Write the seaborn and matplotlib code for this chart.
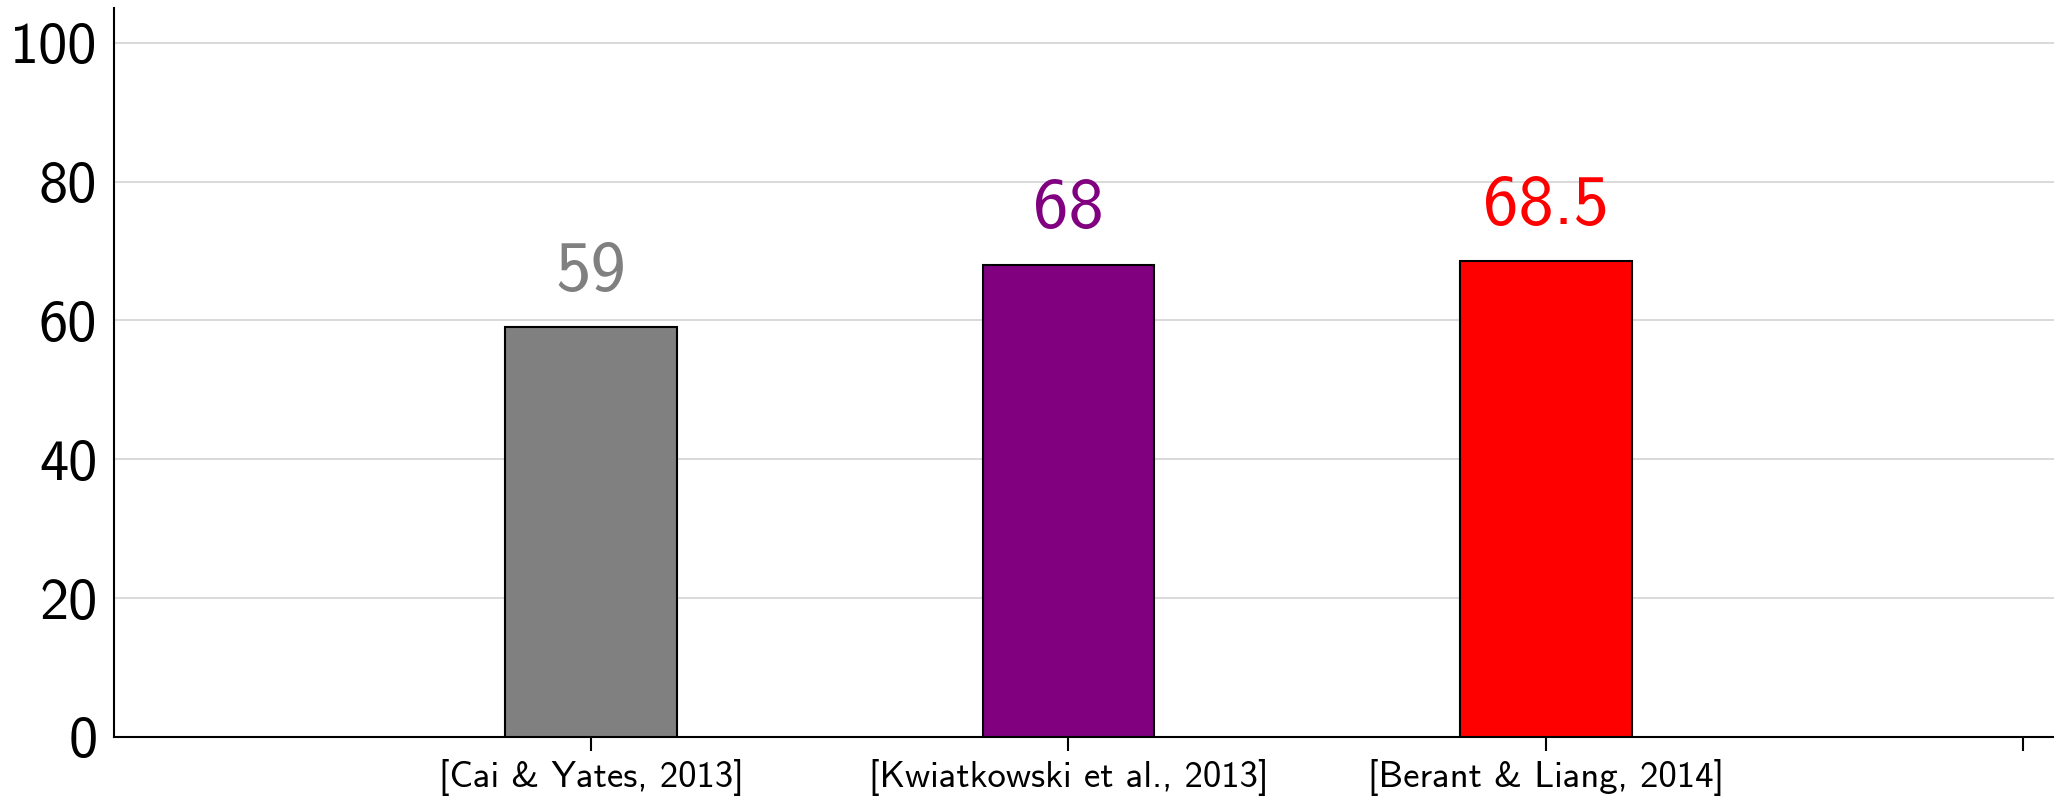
import matplotlib
matplotlib.use("Agg")
import matplotlib.pyplot as plt
import seaborn as sns
import pandas as pd

# Accuracy of each system
systems = ["[Cai & Yates, 2013]", "[Kwiatkowski et al., 2013]", "[Berant & Liang, 2014]"]
scores = [59, 68, 68.5]
score_labels = ["59", "68", "68.5"]
bar_colors = ["#808080", "#800080", "#ff0000"]
y_ticks = [0, 20, 40, 60, 80, 100]

sns.set_theme(style="white")
plt.rcParams["font.family"] = ["cmss10", "DejaVu Sans"]
plt.rcParams["axes.unicode_minus"] = False
plt.rcParams["text.color"] = "black"
plt.rcParams["xtick.color"] = "black"
plt.rcParams["ytick.color"] = "black"

df = pd.DataFrame({"system": systems, "score": scores})

fig = plt.figure(figsize=(20.54, 7.96), dpi=100)
ax = fig.add_axes([114 / 2054, 1 - 737 / 796, 1 - 114 / 2054, (737 - 8) / 796])

sns.barplot(data=df, x="system", y="score", hue="system", order=systems,
            palette=bar_colors, saturation=1, width=0.36, edgecolor="black",
            linewidth=1.5, legend=False, ax=ax, zorder=3)

for i, (v, lab, c) in enumerate(zip(scores, score_labels, bar_colors)):
    ax.annotate(lab, xy=(i, v), xytext=(0, 17), textcoords="offset points",
                ha="center", va="bottom", color=c, fontsize=51, zorder=4)

ax.set_xlim(-1, 3.065)
ax.set_ylim(0, 105)
ax.set_xticks(range(len(systems) + 1))
ax.set_xticklabels(systems + [""], fontsize=26.5, color="black")
ax.set_yticks(y_ticks)
ax.set_yticklabels([str(t) for t in y_ticks], fontsize=42, color="black")
ax.set_xlabel("")
ax.set_ylabel("")

ax.yaxis.grid(True, color="#d3d3d3", linewidth=1.2, zorder=0)
ax.set_axisbelow(True)
for s in ["top", "right"]:
    ax.spines[s].set_visible(False)
for s in ["left", "bottom"]:
    ax.spines[s].set_color("black")
    ax.spines[s].set_linewidth(1.5)

ax.tick_params(axis="x", bottom=True, length=10, width=1.5, color="black", pad=6)
ax.tick_params(axis="y", left=False, pad=6)

fig.savefig("out.png", dpi=100)
